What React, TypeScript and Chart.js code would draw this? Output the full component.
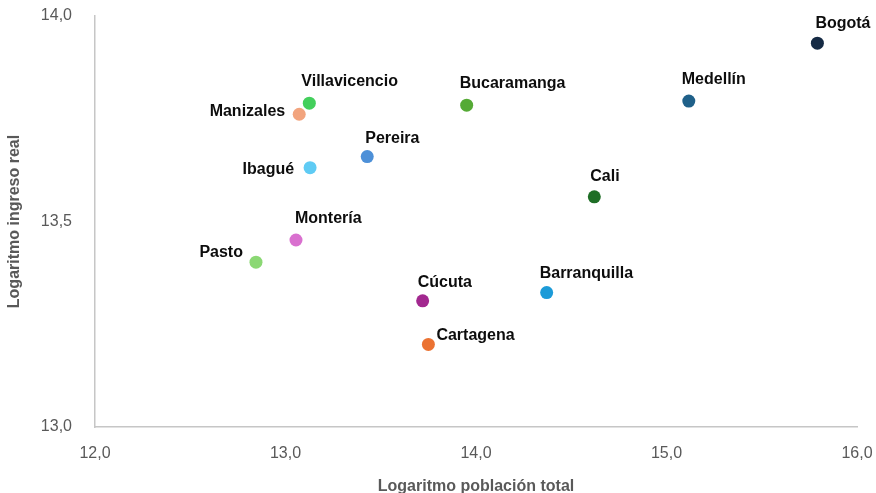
import React, { useEffect, useRef } from "react";
import { Chart, registerables } from "chart.js";

Chart.register(...registerables);

const cities = [
  "Bogotá", "Medellín", "Bucaramanga", "Villavicencio", "Manizales", "Pereira", "Ibagué",
  "Cali", "Montería", "Pasto", "Cúcuta", "Barranquilla", "Cartagena",
];
const logPoblacion = [
  15.792, 15.117, 13.951, 13.125, 13.072, 13.429, 13.129,
  14.621, 13.055, 12.845, 13.720, 14.371, 13.750,
];
const logIngreso = [
  13.934, 13.793, 13.783, 13.788, 13.761, 13.658, 13.631,
  13.560, 13.455, 13.401, 13.307, 13.327, 13.201,
];
const pointColors = [
  "#152a44", "#1f6089", "#55aa35", "#43cf5c", "#f2a47e", "#4d90d8", "#5fcbf4",
  "#1f6e26", "#d970cf", "#8bd874", "#a2288f", "#1c9bd8", "#eb7232",
];
// label placement: [dx, dy, align]
const labelPlacement: [number, number, CanvasTextAlign][] = [
  [-2, -20, "left"], [-7, -21, "left"], [-7, -22, "left"], [-8, -22, "left"],
  [-14, -3, "right"], [-2, -18, "left"], [-16, 2, "right"], [-4, -20, "left"],
  [-1, -21, "left"], [-13, -10, "right"], [-5, -18, "left"], [-7, -19, "left"],
  [8, -9, "left"],
];

const xTicks = [12, 13, 14, 15, 16];
const yTicks = [13, 13.5, 14];

const fmt = (v: number) => v.toFixed(1).replace(".", ",");

const labelPlugin = {
  id: "pointLabels",
  afterDatasetsDraw(chart: any) {
    const ctx = chart.ctx;
    const meta = chart.getDatasetMeta(0);
    ctx.save();
    ctx.font = 'bold 16px "Liberation Sans", Arial, sans-serif';
    ctx.fillStyle = "#0d0d0d";
    ctx.textBaseline = "middle";
    meta.data.forEach((el: any, i: number) => {
      const [dx, dy, align] = labelPlacement[i];
      ctx.textAlign = align;
      ctx.fillText(cities[i], el.x + dx, el.y + dy);
    });
    ctx.restore();
  },
};

const zeroPad = (s: any) => {
  s.paddingTop = 0;
  s.paddingBottom = 0;
  s.paddingLeft = 0;
  s.paddingRight = 0;
};

export default function App() {
  const ref = useRef<HTMLCanvasElement>(null);
  useEffect(() => {
    if (!ref.current) return;
    const tickFont = { family: '"Liberation Sans", Arial, sans-serif', size: 16 };
    const titleFont = { family: '"Liberation Sans", Arial, sans-serif', size: 16, weight: "bold" as const };
    const chart = new Chart(ref.current, {
      type: "scatter",
      data: {
        datasets: [
          {
            data: logPoblacion.map((x, i) => ({ x, y: logIngreso[i] })),
            backgroundColor: pointColors,
            borderWidth: 0,
            pointRadius: 6.5,
          },
        ],
      },
      options: {
        responsive: false,
        animation: false,
        layout: { padding: { top: 16, right: 19, left: 0, bottom: 0 } },
        plugins: { legend: { display: false }, tooltip: { enabled: false } },
        scales: {
          x: {
            type: "linear",
            min: 12,
            max: 16,
            afterBuildTicks: (s: any) => { s.ticks = xTicks.map((v) => ({ value: v })); },
            afterFit: (s: any) => { s.height = 66; zeroPad(s); },
            grid: { display: false },
            border: { display: true, color: "#c6c6c6", width: 1.5 },
            ticks: { color: "#595959", font: tickFont, padding: 9, callback: (v: any) => fmt(Number(v)) },
            title: {
              display: true,
              text: "Logaritmo población total",
              color: "#595959",
              font: titleFont,
              padding: { top: 0, bottom: -3 },
            },
          },
          y: {
            type: "linear",
            min: 13,
            max: 14,
            afterBuildTicks: (s: any) => { s.ticks = yTicks.map((v) => ({ value: v })); },
            afterFit: (s: any) => { s.width = 95; zeroPad(s); },
            grid: { display: false },
            border: { display: true, color: "#c6c6c6", width: 1.5 },
            ticks: { color: "#595959", font: tickFont, padding: 15, callback: (v: any) => fmt(Number(v)) },
            title: {
              display: true,
              text: "Logaritmo ingreso real",
              color: "#595959",
              font: titleFont,
              padding: { top: 5, bottom: 0 },
            },
          },
        },
      },
      plugins: [labelPlugin],
    });
    return () => chart.destroy();
  }, []);
  return (
    <div style={{ position: "fixed", left: 0, top: 0, width: 876, height: 493, background: "#fff" }}>
      <canvas ref={ref} width={876} height={493} />
    </div>
  );
}
